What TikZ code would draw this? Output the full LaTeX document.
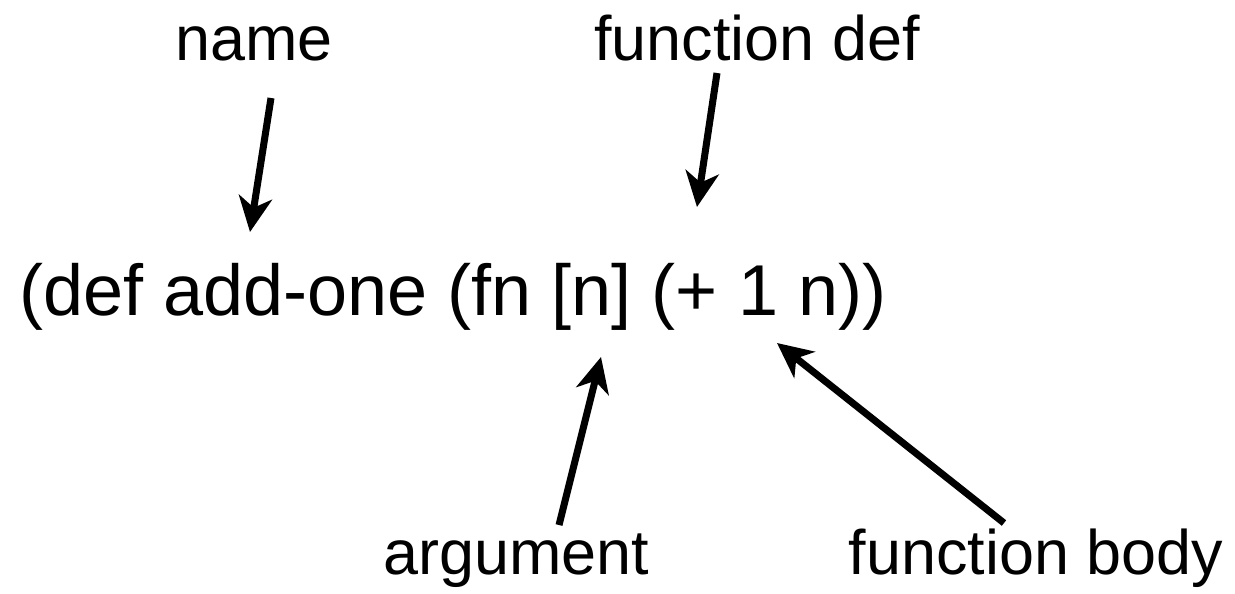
\documentclass[tikz,border=0pt]{standalone}
\usepackage{fontspec}
\setmainfont{Liberation Sans}
\usetikzlibrary{arrows.meta,positioning}

\begin{document}
\begin{tikzpicture}[
      x=0.02cm, y=-0.02cm,
      lbl/.style={inner sep=0pt, anchor=base, font=\fontsize{35.8}{40}\selectfont},
      code/.style={inner sep=0pt, anchor=base west, font=\fontsize{41}{46}\selectfont},
      pointer/.style={line width=4pt, -{Stealth[length=20pt, width=19pt, inset=6pt]}}
  ]
    \useasboundingbox (0,0) rectangle (1235,593);
    % the expression
    \node[code] (expr) at (19,315) {(def add-one (fn [n] (+ 1 n))};
    % labels
    \node[lbl] (name) at (254,60) {name};
    \node[lbl] (fdef) at (757,60) {function def};
    \node[lbl] (arg) at (516,574) {argument};
    \node[lbl] (body) at (1036,574) {function body};
    % arrow ends
    \coordinate (name-from) at (271,98);
    \coordinate (name-to) at (250,232);
    \coordinate (fdef-from) at (717,73);
    \coordinate (fdef-to) at (697,207);
    \coordinate (arg-from) at (559,525);
    \coordinate (arg-to) at (601,357);
    \coordinate (body-from) at (1004,523);
    \coordinate (body-to) at (777,343);
    \draw[pointer] (name-from) -- (name-to);
    \draw[pointer] (fdef-from) -- (fdef-to);
    \draw[pointer] (arg-from) -- (arg-to);
    \draw[pointer] (body-from) -- (body-to);
  \end{tikzpicture}
\end{document}
